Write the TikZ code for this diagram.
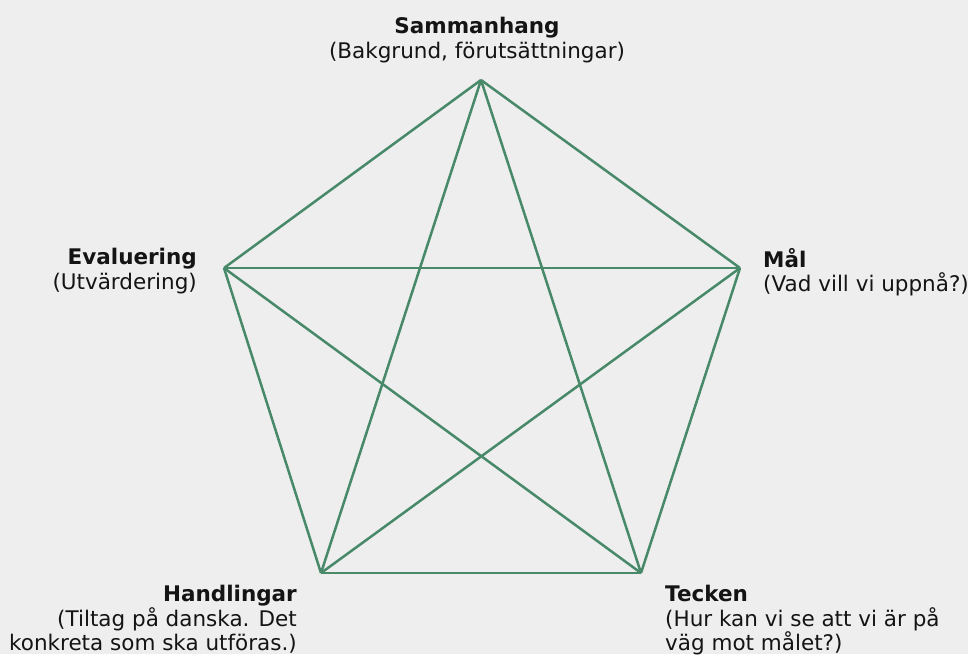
\documentclass[tikz,border=0pt]{standalone}
\usepackage{fontspec}
\setmainfont{DejaVu Sans}
\usepackage{xcolor}
\usetikzlibrary{positioning}
\definecolor{linegreen}{RGB}{72,137,106}
\definecolor{bggray}{RGB}{238,238,238}
\tikzstyle{label} = [inner sep=0pt, font=\fontsize{21.5}{24.5}\selectfont, text=black!92]

\begin{document}
\begin{tikzpicture}[
        x=1pt, y=-1pt,
        link/.style={draw=linegreen, line width=2.5pt, line join=round},
    ]
        \fill[bggray] (0, 0) rectangle (968, 654);
        \useasboundingbox (0, 0) rectangle (968, 654);

        % corners of the pentagon
        \coordinate (samman) at (481, 80);
        \coordinate (mal) at (740, 268);
        \coordinate (tecken) at (641, 573);
        \coordinate (handl) at (321, 573);
        \coordinate (eval) at (224, 268);

        % every corner joined to every other
        \foreach \a/\b in {samman/mal, mal/tecken, tecken/handl, handl/eval, eval/samman,
                           samman/tecken, samman/handl, mal/eval, mal/handl, eval/tecken}
            \draw[link] (\a) -- (\b);

        \node[label, anchor=north, align=center] (samman label) at (477, 17)
            {\textbf{Sammanhang}\\(Bakgrund, förutsättningar)};
        \node[label, anchor=north west, align=left] (mal label) at (763, 248)
            {\textbf{Mål}\\(Vad vill vi uppnå?)};
        \node[label, anchor=north east, align=right] (eval label) at (197, 248)
            {\textbf{Evaluering}\\(Utvärdering)};
        \node[label, anchor=north east, align=right] (handl label) at (297, 585)
            {\textbf{Handlingar}\\(Tiltag på danska. Det\\konkreta som ska utföras.)};
        \node[label, anchor=north west, align=left] (tecken label) at (665, 585)
            {\textbf{Tecken}\\(Hur kan vi se att vi är på\\väg mot målet?)};
    \end{tikzpicture}
\end{document}
